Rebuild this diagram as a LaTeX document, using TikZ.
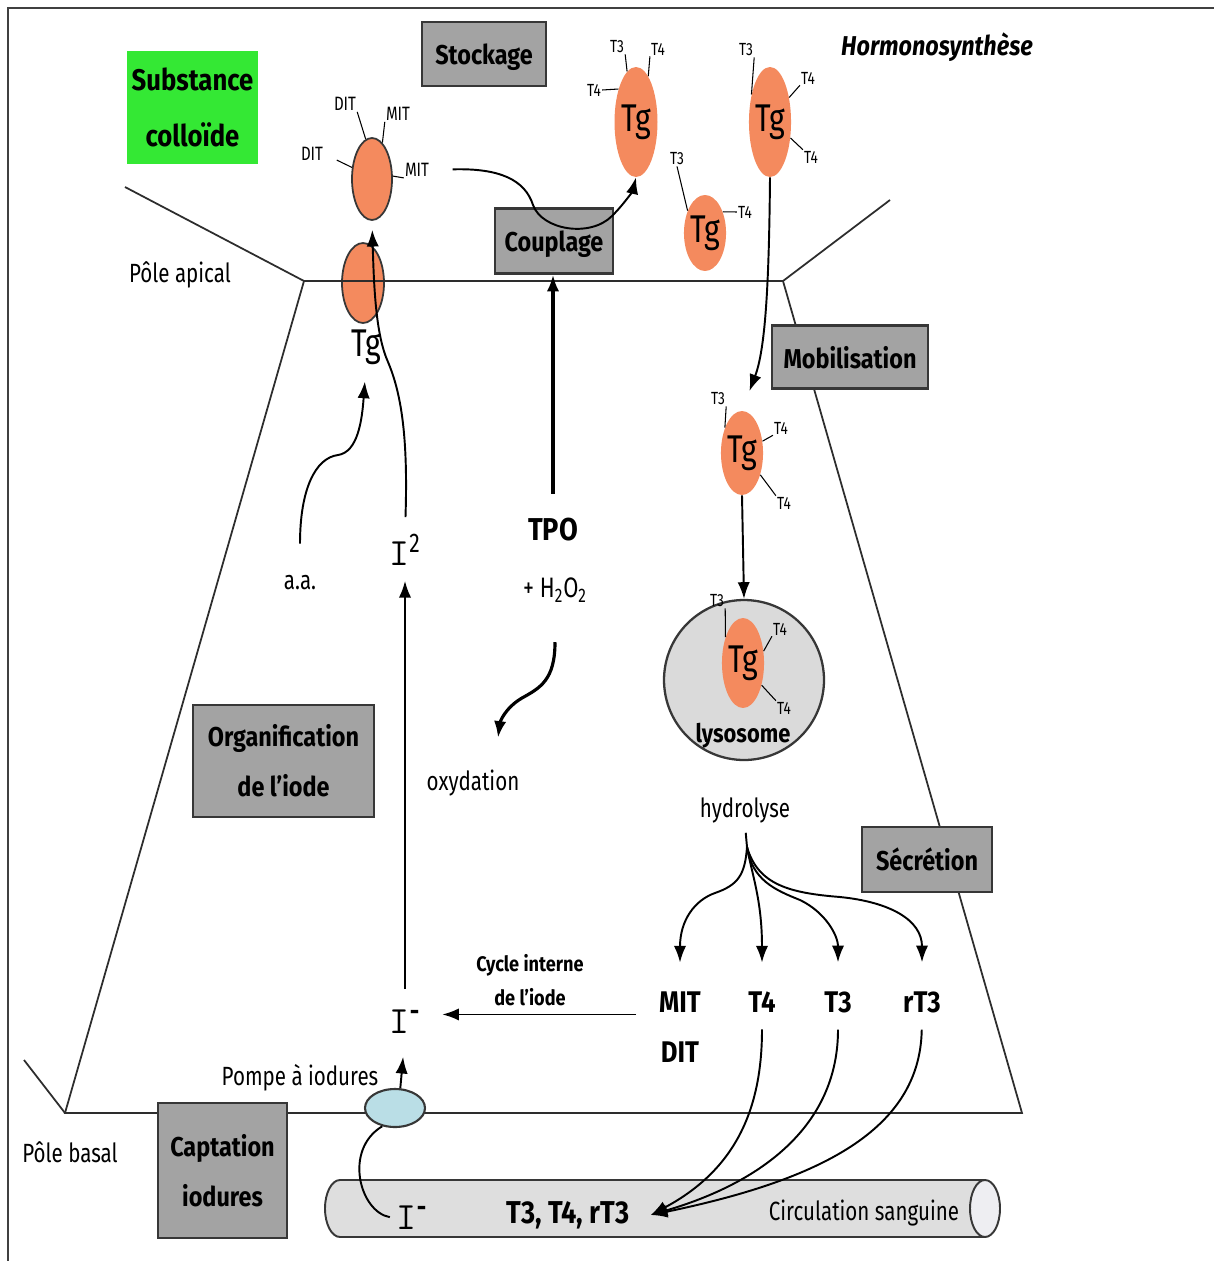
\documentclass[tikz,border=0pt]{standalone}
\usepackage{fontspec}
\setmainfont{Fira Sans}
\newfontfamily\nar{Fira Sans}[FakeStretch=0.78]
\newfontfamily\cb{Fira Sans}[FakeStretch=0.86]
\usetikzlibrary{arrows.meta,shapes.geometric,calc}
\definecolor{tgor}{RGB}{244,138,94}
\definecolor{boxg}{RGB}{163,163,163}
\definecolor{grn}{RGB}{52,232,52}
\definecolor{lysoc}{RGB}{218,218,218}
\definecolor{vess}{RGB}{222,222,222}
\definecolor{vend}{RGB}{238,238,242}
\definecolor{pumpc}{RGB}{186,222,230}
\definecolor{edgec}{RGB}{55,55,55}
\definecolor{cellc}{RGB}{45,45,45}
\begin{document}
\begin{tikzpicture}[x=0.02cm,y=-0.02cm,
 stage/.style={draw=edgec,line width=1.3pt,fill=boxg,inner sep=0pt,align=center,font=\cb\bfseries\fontsize{15.5}{28.5}\selectfont},
 one/.style={text depth=0pt},
 lab/.style={font=\nar\fontsize{15}{17}\selectfont,inner sep=1pt},
 sm/.style={font=\nar\fontsize{10}{11}\selectfont,inner sep=0.5pt},
 smb/.style={font=\nar\fontsize{11}{12}\selectfont,inner sep=0.5pt},
 bl/.style={font=\cb\bfseries\fontsize{17}{20}\selectfont,inner sep=1pt},
 tgb/.style={ellipse,fill=tgor,inner sep=0pt,font=\nar\fontsize{22}{22}\selectfont},
 tgo/.style={tgb,draw=edgec,line width=1pt},
 arr/.style={-{Latex[length=9.5pt,width=7pt]},line width=1.1pt},
 tick/.style={line width=0.6pt},
 cell/.style={line width=1pt,draw=cellc},
 iod/.style={font=\ttfamily\fontsize{22}{22}\selectfont,inner sep=1pt}
]
\fill[white] (0,0) rectangle (1214,1261);
\useasboundingbox (0,0) rectangle (1214,1261);
% frame
\draw[line width=1.2pt,draw=black!75] (8,1261) -- (8,8) -- (1214,8);

% membrane Tg
\node[tgo,minimum width=0.84cm,minimum height=1.6cm] (col0) at (363,283) {};

% cell outline
\draw[cell] (125,187) -- (304,281) -- (783,281) -- (890,200);
\draw[cell] (304,281) -- (65,1113) -- (1022,1113) -- (783,281);
\draw[cell] (24,1060) -- (65,1113);

% stage boxes
\node[stage,fill=grn,draw=none,minimum width=2.62cm,minimum height=2.26cm,font=\cb\bfseries\fontsize{17}{32}\selectfont] (subs) at (192.5,107.5) {Substance\\colloïde};
\node[stage,one,minimum width=2.48cm,minimum height=1.28cm] (stock) at (484,54) {Stockage};
\node[font=\cb\bfseries\itshape\fontsize{15.5}{18}\selectfont] (hormo) at (937,47) {Hormonosynthèse};
\node[stage,one,minimum width=2.36cm,minimum height=1.3cm] (coup) at (554,241) {Couplage};
\node[stage,one,minimum width=3.12cm,minimum height=1.26cm] (mob) at (850,357) {Mobilisation};
\node[stage,minimum width=3.62cm,minimum height=2.24cm] (org) at (283.5,761) {Organification\\de l’iode};
\node[stage,one,minimum width=2.6cm,minimum height=1.3cm] (secr) at (927,859.5) {Sécrétion};
\node[stage,minimum width=2.58cm,minimum height=2.7cm] (capt) at (222.5,1170.5) {Captation\\iodures};

% upper Tg with DIT / MIT
\node[tgo,minimum width=0.8cm,minimum height=1.64cm] (col1) at (372,179) {};
\node[smb] (e1) at (345,104) {DIT};
\node[smb] (e2) at (398,114) {MIT};
\node[smb] (e3) at (312,154) {DIT};
\node[smb] (e4) at (417,170) {MIT};
\draw[tick] (e1.south east) -- (col1.99);
\draw[tick] (e2.south west) -- (col1.74);
\draw[tick,shorten <=0.28cm] (e3.east) -- (col1.150);
\draw[tick] (e4.south west) -- (col1.8);
\node[font=\nar\fontsize{22}{22}\selectfont,inner sep=1pt] (tglab) at (366,347) {Tg};

% stored Tg
\node[tgb,minimum width=0.86cm,minimum height=2.2cm] (tg1) at (636,122) {Tg};
\node[sm] (a1) at (617,47) {T3};
\node[sm] (a2) at (658,49) {T4};
\node[sm] (a3) at (594,90) {T4};
\draw[tick] (a1.south east) -- (tg1.100);
\draw[tick] (a2.south west) -- (tg1.75);
\draw[tick] (a3.east) -- (tg1.118);

\node[tgb,minimum width=0.84cm,minimum height=2.2cm] (tg2) at (770,122) {Tg};
\node[sm] (b1) at (746,50) {T3};
\node[sm] (b2) at (808,78) {T4};
\node[sm] (b3) at (811,157) {T4};
\draw[tick] (b1.south east) -- (tg2.124);
\draw[tick] (b2.south west) -- (tg2.52);
\draw[tick] (b3.north west) -- (tg2.-38);

\node[tgb,minimum width=0.8cm,minimum height=1.52cm] (tg3) at (705,233) {Tg};
\node[sm] (c1) at (677,159) {T3};
\node[sm] (c2) at (745,212) {T4};
\draw[tick] (c1.south) -- (tg3.128);
\draw[tick] (c2.west) -- (tg3.50);

% mobilised Tg
\node[tgb,minimum width=0.84cm,minimum height=1.68cm] (tgm) at (742,453) {Tg};
\node[sm] (d1) at (718,399) {T3};
\node[sm] (d2) at (781,428) {T4};
\node[sm] (d3) at (784,503) {T4};
\draw[tick] (d1.south east) -- (tgm.124);
\draw[tick] (d2.south west) -- (tgm.30);
\draw[tick] (d3.north west) -- (tgm.-50);

% lysosome
\node[circle,draw=edgec,line width=1.3pt,fill=lysoc,minimum size=3.2cm,inner sep=0pt] (lyso) at (744,680) {};
\node[tgb,minimum width=0.84cm,minimum height=1.8cm] (tgl) at (743,663) {Tg};
\node[sm] (f1) at (717,601) {T3};
\node[sm] (f2) at (780,629) {T4};
\node[sm] (f3) at (784,708) {T4};
\draw[tick] (f1.south east) -- (tgl.124);
\draw[tick] (f2.south west) -- (tgl.30);
\draw[tick] (f3.north west) -- (tgl.-50);
\node[font=\cb\bfseries\fontsize{14.5}{17}\selectfont,inner sep=1pt] (lysl) at (743,736) {lysosome};

% blood vessel
\draw[draw=edgec,line width=1.1pt,fill=vess] (985,1180) -- (340,1180) arc[start angle=90,end angle=270,x radius=0.3cm,y radius=0.57cm] -- (985,1237);
\draw[draw=edgec,line width=1.1pt,fill=vend] (985,1208.5) ellipse [x radius=0.3cm,y radius=0.57cm];

% pump
\node[ellipse,draw=edgec,line width=1.2pt,fill=pumpc,minimum width=1.2cm,minimum height=0.76cm,inner sep=0pt] (pump) at (395,1108) {};

% labels
\node[lab] (apic) at (180,275) {Pôle apical};
\node[lab] (basal) at (70,1152) {Pôle basal};
\node[lab] (aa) at (300,583) {a.a.};
\node[iod] (i2) at (405,550) {I\textsuperscript{\nar 2}};
\node[font=\cb\bfseries\fontsize{18}{20}\selectfont,inner sep=1pt] (tpo) at (553,530) {TPO};
\node[font=\nar\fontsize{16}{18}\selectfont,inner sep=1pt] (h2o2) at (555,590) {+ H\textsubscript{2}O\textsubscript{2}};
\node[lab] (oxy) at (473,783) {oxydation};
\node[lab] (hyd) at (745,810) {hydrolyse};
\node[font=\cb\bfseries\fontsize{12}{19}\selectfont,align=center,inner sep=1pt] (cyc) at (530,980) {Cycle interne\\de l’iode};
\node[bl] (mit) at (680,1002) {MIT};
\node[bl] (dit) at (680,1052) {DIT};
\node[bl] (t4m) at (762,1002) {T4};
\node[bl] (t3m) at (838,1002) {T3};
\node[bl] (rt3m) at (922,1002) {rT3};
\node[iod] (im) at (405,1022) {I\textsuperscript{\cb\bfseries -}};
\node[lab] (pompl) at (300,1078) {Pompe à iodures};
\node[iod] (ib) at (412,1218) {I\textsuperscript{\cb\bfseries -}};
\node[font=\cb\bfseries\fontsize{18}{20}\selectfont,inner sep=1pt] (blood) at (568,1215) {T3, T4, rT3};
\node[lab] (circ) at (864,1213) {Circulation sanguine};

% connectors
\draw[arr,shorten <=0.3cm,shorten >=0.18cm] (i2.north) .. controls (408,440) and (402,395) .. (388,362) .. controls (376,335) and (374,290) .. (col1.south);
\draw[arr,shorten <=0.6cm,shorten >=0.3cm] (aa.north) .. controls (300,490) and (315,458) .. (338,455) .. controls (358,452) and (362,420) .. (tglab.south);
\draw[arr,shorten <=0.38cm,shorten >=0.26cm] (im.north) -- (i2.south);
\draw[arr,shorten >=0.42cm] (pump.75) -- (im.south);
\draw[line width=1.1pt,shorten <=0.1cm] (ib.west) .. controls (360,1212) and (343,1150) .. (pump.235);
\draw[arr,shorten >=0.4cm] ([xshift=-0.42cm]mit.south west) -- (im.east |- mit.south west);

\coordinate (hb) at (747,847);
\draw[line width=1.1pt,shorten <=0.16cm] (hyd.south) -- (hb);
\draw[arr,shorten >=0.54cm] (hb) .. controls (745,875) and (738,885) .. (715,893) .. controls (695,900) and (680,920) .. (mit.north);
\draw[arr,shorten >=0.54cm] (hb) .. controls (752,875) and (762,900) .. (t4m.north);
\draw[arr,shorten >=0.54cm] (hb) .. controls (752,880) and (775,890) .. (800,900) .. controls (825,912) and (838,935) .. (t3m.north);
\draw[arr,shorten >=0.54cm] (hb) .. controls (758,885) and (790,893) .. (840,897) .. controls (890,902) and (922,920) .. (rt3m.north);

\draw[arr,shorten <=0.3cm] (t4m.south) .. controls (762,1110) and (735,1170) .. ([xshift=0.38cm]blood.east);
\draw[arr,shorten <=0.3cm] (t3m.south) .. controls (838,1120) and (770,1180) .. ([xshift=0.38cm]blood.east);
\draw[arr,shorten <=0.3cm] (rt3m.south) .. controls (920,1130) and (820,1180) .. ([xshift=0.38cm]blood.east);

\draw[arr] (tgm.south) -- (lyso.north);
\draw[arr,shorten >=0.42cm] (tg2.south) .. controls (769,290) and (765,350) .. (tgm.north);

\draw[arr,shorten <=0.45cm] (e4.east) .. controls (500,168) and (525,180) .. (533,205) .. controls (542,230) and (590,238) .. (612,216) .. controls (625,203) and (633,190) .. (tg1.south);

\draw[arr,line width=1.8pt,shorten <=0.45cm] (tpo.north) -- (tpo.north |- coup.south);
\draw[arr,line width=1.8pt,shorten <=0.76cm] (h2o2.south) .. controls (555,680) and (540,688) .. (522,698) .. controls (505,708) and (500,722) .. ($(oxy.north)+(25,-30)$);
\end{tikzpicture}
\end{document}
